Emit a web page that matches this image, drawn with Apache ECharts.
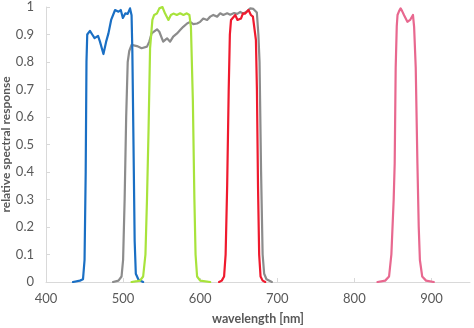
<!DOCTYPE html>
<html>
<head>
<meta charset="utf-8">
<script src="https://cdn.jsdelivr.net/npm/echarts@6/dist/echarts.min.js"></script>
<style>
  html, body { margin: 0; padding: 0; background: #fff; }
  #chart { width: 474px; height: 328px; }
</style>
</head>
<body>
<div id="chart"></div>
<script>
// Filter passbands: [wavelength nm, relative response]
const blueBand = [[435,0],[444,0.005],[448,0.01],[450,0.08],[451.5,0.4],[452.5,0.8],[453.5,0.9],[457,0.913],[460,0.9],[463,0.887],[467.5,0.895],[470,0.874],[474.5,0.829],[478,0.874],[481,0.904],[484.5,0.953],[489.6,0.989],[494,0.983],[497,0.989],[499.7,0.96],[503,0.977],[506,0.975],[509,0.995],[511,0.97],[512,0.84],[513.5,0.5],[515,0.15],[516.5,0.03],[520,0.008],[526,0]];
const grayBand = [[487,0],[494,0.005],[498,0.02],[500,0.08],[502,0.3],[504,0.6],[506,0.8],[508,0.84],[511,0.862],[518,0.858],[524,0.85],[531,0.856],[534,0.874],[537,0.904],[544,0.919],[547,0.91],[552,0.874],[557,0.886],[561,0.874],[565,0.892],[570,0.904],[574,0.916],[578,0.928],[583,0.94],[587,0.946],[591,0.938],[596,0.94],[600,0.946],[604,0.958],[609,0.953],[613,0.965],[617,0.971],[622,0.965],[626,0.977],[630,0.971],[635,0.977],[639,0.972],[644,0.978],[648,0.975],[652,0.982],[656,0.976],[661,0.985],[665,0.995],[669,0.993],[673.5,0.98],[675.5,0.9],[677,0.8],[679,0.4],[681,0.1],[683,0.03],[686,0.01],[693,0]];
const greenBand = [[511,0],[518,0.003],[522,0.005],[526,0.02],[529,0.1],[531,0.3],[533,0.55],[535,0.85],[538,0.953],[540.3,0.971],[543.8,0.976],[547,0.995],[551,1.0],[554.5,0.976],[558.8,0.953],[562,0.971],[565.3,0.976],[569.7,0.971],[574,0.977],[578.3,0.971],[582.7,0.977],[584.8,0.976],[586,0.971],[588,0.928],[590.5,0.66],[592.5,0.3],[594,0.1],[596,0.02],[600,0.005],[613,0]];
const redBand = [[624.5,0],[628,0.005],[631,0.02],[633,0.1],[635,0.35],[637,0.7],[638.5,0.9],[640,0.953],[641.2,0.958],[645.5,0.971],[648.4,0.953],[652.9,0.958],[655.5,0.977],[658.4,0.976],[660.6,0.97],[662.7,0.989],[665.8,0.971],[668.4,0.965],[670.5,0.968],[672.3,0.88],[673.6,0.7],[675,0.35],[676.5,0.1],[678.3,0.02],[681,0.005],[684.4,0]];
const pinkBand = [[830,0],[840,0.005],[845,0.02],[848,0.1],[851,0.3],[852.3,0.43],[853.6,0.78],[855,0.93],[856,0.971],[858,0.985],[860,0.995],[862,0.985],[864.5,0.97],[868.8,0.946],[872.3,0.953],[876,0.971],[877.5,0.928],[879.6,0.78],[881.8,0.43],[883.5,0.2],[885,0.08],[888,0.02],[893,0.005],[903,0]];

const textColor = '#595959';
const axisColor = '#d9d9d9';
const fontFamily = 'Lato, "Open Sans", sans-serif';

function band(data, color) {
  return {
    type: 'line',
    data: data,
    showSymbol: false,
    symbol: 'none',
    lineStyle: { color: color, width: 2.2, join: 'round', cap: 'round' },
    itemStyle: { color: color },
    animation: false
  };
}

const chart = echarts.init(document.getElementById('chart'), null, { renderer: 'canvas' });
chart.setOption({
  backgroundColor: '#ffffff',
  grid: { left: 46, right: 4, top: 7, bottom: 46, containLabel: false, outerBoundsMode: 'none' },
  xAxis: {
    type: 'value',
    min: 400,
    max: 950,
    interval: 100,
    name: 'wavelength [nm]',
    nameLocation: 'middle',
    nameGap: 30,
    nameMoveOverlap: false,
    nameTextStyle: { color: textColor, fontFamily: fontFamily, fontWeight: 'bold', fontSize: 12.5 },
    axisLine: { show: true, lineStyle: { color: axisColor, width: 1 } },
    axisTick: { show: true, inside: true, length: 4, lineStyle: { color: axisColor } },
    axisLabel: { color: textColor, fontFamily: fontFamily, fontSize: 13, margin: 10,
      showMaxLabel: false },
    splitLine: { show: false }
  },
  yAxis: {
    type: 'value',
    min: 0,
    max: 1,
    interval: 0.1,
    name: 'relative spectral response',
    nameLocation: 'middle',
    nameGap: 34,
    nameMoveOverlap: false,
    nameTextStyle: { color: textColor, fontFamily: fontFamily, fontWeight: 'bold', fontSize: 12 },
    axisLine: { show: true, lineStyle: { color: axisColor, width: 1 } },
    axisTick: { show: true, inside: true, length: 4, lineStyle: { color: axisColor } },
    axisLabel: { color: textColor, fontFamily: fontFamily, fontSize: 13, margin: 12 },
    splitLine: { show: false }
  },
  series: [
    band(grayBand, '#8c8c8c'),
    band(blueBand, '#1a6fc4'),
    band(greenBand, '#a8e33c'),
    band(redBand, '#ef1a2e'),
    band(pinkBand, '#e8688f')
  ]
});
</script>
</body>
</html>
